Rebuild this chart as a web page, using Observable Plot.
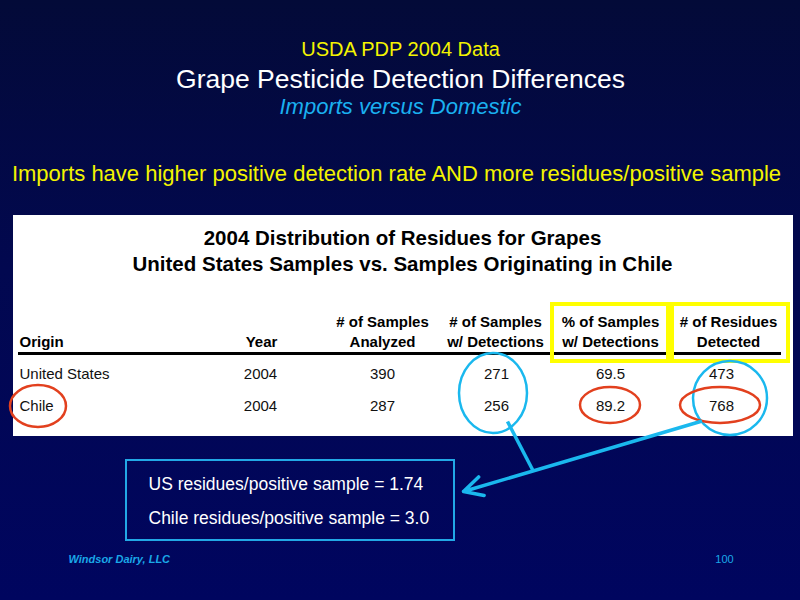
<!DOCTYPE html>
<html>
<head>
<meta charset="utf-8">
<script src="https://cdn.jsdelivr.net/npm/d3@7"></script>
<script src="https://cdn.jsdelivr.net/npm/@observablehq/plot@0.6"></script>
<style>
  html, body { margin: 0; padding: 0; background: #02073f; overflow: hidden; }
  #chart svg { display: block; }
</style>
</head>
<body>
<div id="chart"></div>
<script>
// ---------- Data ----------
const slideKicker = "USDA PDP 2004 Data";
const slideTitle = "Grape Pesticide Detection Differences";
const slideSubtitle = "Imports versus Domestic";
const slideMessage = "Imports have higher positive detection rate AND more residues/positive sample";
const tableTitle = "2004 Distribution of Residues for Grapes\nUnited States Samples vs. Samples Originating in Chile";
const headerLabels = ["Origin", "Year", "# of Samples\nAnalyzed", "# of Samples\nw/ Detections", "% of Samples\nw/ Detections", "# of Residues\nDetected"];
const origins = ["United States", "Chile"];
const years = ["2004", "2004"];
const samplesAnalyzed = [390, 287];
const samplesWithDetections = [271, 256];
const pctWithDetections = [69.5, 89.2];
const residuesDetected = [473, 768];
const ratioLines = ["US residues/positive sample = 1.74", "Chile residues/positive sample = 3.0"];
const footerLeft = "Windsor Dairy, LLC";
const footerRight = "100";

// ---------- Layout (pixel space of the slide) ----------
const headerX = [19, 261, 382, 495, 610, 728];
const valueX = [19, 260, 382, 496, 610, 721];
const rowBaseline = [378, 410];
const headerBaseline = 346;
const tablePanel = {x1: 13, x2: 793, y1: 215, y2: 436};
const highlightBoxes = [{y1: 304, y2: 361, x1: 552, x2: 668}, {y1: 304, y2: 361, x1: 672, x2: 788}];
const cyanRings = [{cx: 493, cy: 393, rx: 34, ry: 40}, {cx: 730, cy: 398, rx: 37, ry: 37}];
const redRings = [{cx: 38, cy: 406, rx: 28, ry: 21}, {cx: 610, cy: 405, rx: 30, ry: 18}, {cx: 720, cy: 405, rx: 40, ry: 18}];
const calloutBox = {x1: 126, x2: 454, y1: 460, y2: 540};
const calloutBaselines = [489, 523];

const FONT = "'Liberation Sans', Arial, Helvetica, sans-serif";
const YELLOW = "#f4f400";
const CYAN = "#1ab8ee";
const RED = "#e2401e";

// ---------- Derived tables ----------
const columns = [origins, years, samplesAnalyzed, samplesWithDetections, pctWithDetections.map(d => d.toFixed(1)), residuesDetected];
const cells = [];
columns.forEach((col, c) => col.forEach((v, r) => cells.push({
  col: c, x: valueX[c], y: rowBaseline[r], text: String(v)
})));
const headers = headerLabels.map((t, c) => ({col: c, x: headerX[c], y: headerBaseline, text: t}));
const first = d => d.col === 0;
const rest = d => d.col !== 0;

function ellipses(data, stroke, strokeWidth) {
  return (index, scales) => {
    const g = d3.create("svg:g");
    g.selectAll("ellipse").data(data).join("ellipse")
      .attr("cx", d => scales.x(d.cx))
      .attr("cy", d => scales.y(d.cy))
      .attr("rx", d => Math.abs(scales.x(d.cx + d.rx) - scales.x(d.cx)))
      .attr("ry", d => Math.abs(scales.y(d.cy + d.ry) - scales.y(d.cy)))
      .attr("fill", "none")
      .attr("stroke", stroke)
      .attr("stroke-width", strokeWidth);
    return g.node();
  };
}

const headerStyle = {x: "x", y: "y", text: "text", fill: "black", fontSize: 15, fontWeight: "bold", lineAnchor: "bottom", lineHeight: 1.3, fontFamily: FONT};
const cellStyle = {x: "x", y: "y", text: "text", fill: "#111", fontSize: 15, lineAnchor: "bottom", fontFamily: FONT};

const chart = Plot.plot({
  width: 800,
  height: 600,
  margin: 0,
  x: {domain: [0, 800], range: [0, 800], axis: null},
  y: {domain: [0, 600], range: [0, 600], axis: null},
  style: {background: "linear-gradient(to bottom, #030a38 0%, #020850 45%, #00055f 100%)", fontFamily: FONT},
  marks: [
    // Slide titles
    Plot.text([slideKicker], {x: 400, y: 55, text: d => d, fill: YELLOW, fontSize: 20, lineAnchor: "bottom", fontFamily: FONT}),
    Plot.text([slideTitle], {x: 400, y: 87, text: d => d, fill: "white", fontSize: 26.5, lineAnchor: "bottom", fontFamily: FONT}),
    Plot.text([slideSubtitle], {x: 400, y: 113, text: d => d, fill: "#1ab0f0", fontSize: 22, fontStyle: "italic", lineAnchor: "bottom", fontFamily: FONT}),
    Plot.text([slideMessage], {x: 396, y: 180, text: d => d, fill: YELLOW, fontSize: 22, lineAnchor: "bottom", fontFamily: FONT}),

    // Table panel
    Plot.rect([tablePanel], {x1: "x1", x2: "x2", y1: "y1", y2: "y2", fill: "white"}),
    Plot.text([tableTitle], {x: 402, y: 270, text: d => d, fill: "black", fontSize: 20.5, fontWeight: "bold", lineAnchor: "bottom", lineHeight: 1.25, fontFamily: FONT}),
    Plot.text(headers, {...headerStyle, filter: first, textAnchor: "start"}),
    Plot.text(headers, {...headerStyle, filter: rest, textAnchor: "middle"}),
    Plot.ruleY([353], {x1: 18, x2: 781, stroke: "black", strokeWidth: 3}),
    Plot.text(cells, {...cellStyle, filter: first, textAnchor: "start"}),
    Plot.text(cells, {...cellStyle, filter: rest, textAnchor: "middle"}),

    // Highlights
    Plot.rect(highlightBoxes, {x1: "x1", x2: "x2", y1: "y1", y2: "y2", fill: "none", stroke: "#ffff00", strokeWidth: 4}),
    ellipses(cyanRings, CYAN, 2.5),
    ellipses(redRings, RED, 2.5),

    // Connectors
    Plot.link([{x1: 507, y1: 421, x2: 533, y2: 471}], {x1: "x1", y1: "y1", x2: "x2", y2: "y2", stroke: CYAN, strokeWidth: 3.5}),
    Plot.arrow([{x1: 700, y1: 421, x2: 463, y2: 491}], {x1: "x1", y1: "y1", x2: "x2", y2: "y2", stroke: CYAN, strokeWidth: 3.5, headLength: 9, headAngle: 55}),

    // Callout box
    Plot.rect([calloutBox], {x1: "x1", x2: "x2", y1: "y1", y2: "y2", fill: "none", stroke: "#22a8e6", strokeWidth: 2}),
    Plot.text(ratioLines, {x: 148, y: (d, i) => calloutBaselines[i], text: d => d, textAnchor: "start", fill: "white", fontSize: 17.5, lineAnchor: "bottom", fontFamily: FONT}),

    // Footer
    Plot.text([footerLeft], {x: 68, y: 562, text: d => d, textAnchor: "start", fill: "#1aa8e8", fontSize: 11, fontWeight: "bold", fontStyle: "italic", lineAnchor: "bottom", fontFamily: FONT}),
    Plot.text([footerRight], {x: 724, y: 562, text: d => d, fill: "#1aa8e8", fontSize: 11, lineAnchor: "bottom", fontFamily: FONT})
  ]
});

document.getElementById("chart").appendChild(chart);
</script>
</body>
</html>
